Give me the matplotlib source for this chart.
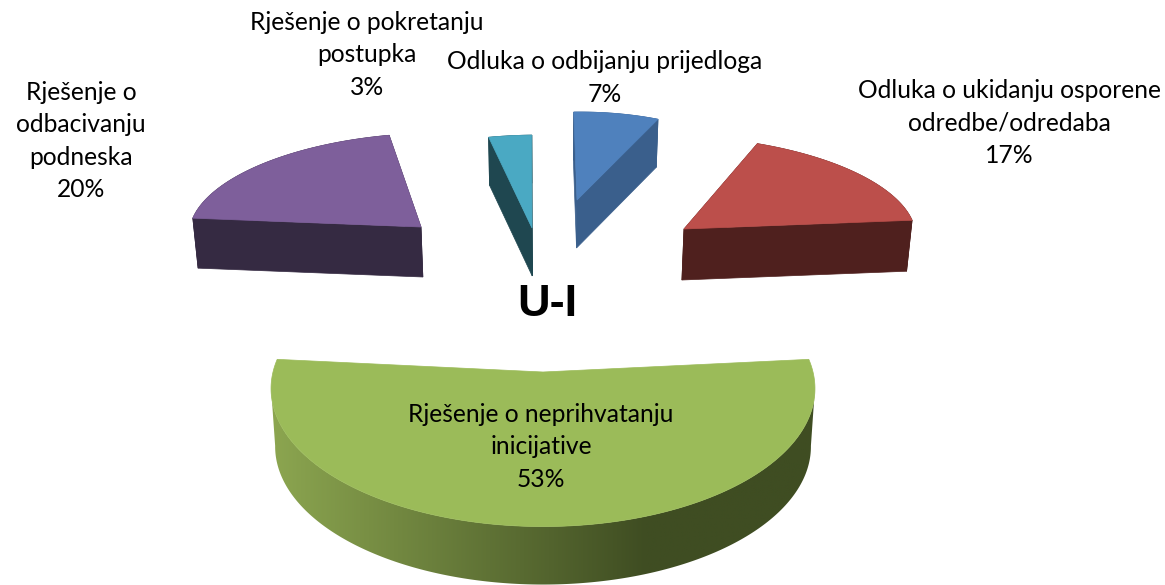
import numpy as np
import matplotlib
matplotlib.use('Agg')
import matplotlib.pyplot as plt
from matplotlib.colors import LinearSegmentedColormap
from matplotlib.patches import Polygon

categories = ['Odluka o odbijanju prijedloga',
              'Odluka o ukidanju osporene\nodredbe/odredaba',
              'Rješenje o neprihvatanju\ninicijative',
              'Rješenje o\nodbacivanju\npodneska',
              'Rješenje o pokretanju\npostupka']
values = [7, 17, 53, 20, 3]
title = 'U-I'

# look of each slice, same order as categories
top_colors = ['#4f81bd', '#bc4f4b', '#9bbb59', '#7e5f9b', '#4aa9c3']
side_colors = ['#3a5f8c', '#4f201e', None, '#352a42', '#1f4750']
centers = [(577, 200), (684, 229), (543, 372), (421, 227), (532, 228)]
radius_x = [197, 231, 270, 231, 230]
radius_y = [88, 93, 136, 94, 93]
shear = [3, -20, 0, 19, 7]
persp = [0, 0, 0.12, 0, 0]
depth = [48, 51, 58, 50, 48]
label_pos = [(605, 78), (1009, 123), (541, 447), (81, 141), (367, 55)]
line_height = 32.6

start_angle = -1.8
vanish_x = 545
bottom_scale = 0.985

fig = plt.figure(figsize=(11.65, 5.85), dpi=100)
ax = fig.add_axes([0, 0, 1, 1])
ax.set_xlim(0, 1165)
ax.set_ylim(585, 0)
ax.axis('off')

green_side = LinearSegmentedColormap.from_list(
    'green_side', [(0, '#8ca650'), (0.69, '#3f4d22'), (1, '#3f4d22')])

edges = start_angle + np.cumsum([0] + values) / sum(values) * 360

for i in range(len(values)):
    theta = np.radians(np.linspace(edges[i], edges[i + 1], 240))
    w = 1 + persp[i] * np.cos(theta)
    cx, cy = centers[i]
    arc_x = cx + (radius_x[i] * np.sin(theta) + shear[i] * np.cos(theta)) / w
    arc_y = cy - radius_y[i] * np.cos(theta) / w
    top = np.column_stack([np.r_[cx, arc_x], np.r_[cy, arc_y]])
    bottom = top.copy()
    bottom[:, 0] = vanish_x + (top[:, 0] - vanish_x) * bottom_scale
    bottom[:, 1] = top[:, 1] + depth[i]

    # extruded outline: all the side walls, the top face goes over them
    if side_colors[i] is None:
        right = top[:, 0].argmax()
        left = top[:, 0].argmin()
        walls = Polygon(np.vstack([top[right:left + 1], bottom[right:left + 1][::-1]]),
                        closed=True, fc='none', ec='none')
        ax.add_patch(walls)
        im = ax.imshow(np.linspace(0, 1, 256).reshape(1, -1), cmap=green_side, aspect='auto',
                       extent=[top[:, 0].min(), top[:, 0].max(), 585, 340], zorder=2)
        im.set_clip_path(walls)
    else:
        n = len(top)
        for j in [(0, 1), (0, n - 1)]:
            quad = np.array([top[j[0]], top[j[1]], bottom[j[1]], bottom[j[0]]])
            ax.add_patch(Polygon(quad, closed=True, fc=side_colors[i], ec=side_colors[i], lw=0.5, zorder=2))
        ax.add_patch(Polygon(np.vstack([top[1:], bottom[1:][::-1]]), closed=True,
                             fc=side_colors[i], ec=side_colors[i], lw=0.5, zorder=2))
    ax.add_patch(Polygon(top, closed=True, fc=top_colors[i], ec=top_colors[i], lw=0.5, zorder=3))

ax.set_xlim(0, 1165)
ax.set_ylim(585, 0)

# one text per line, the label blocks sit close together
for i in range(len(values)):
    lines = categories[i].split('\n') + [str(values[i]) + '%']
    for k, line in enumerate(lines):
        y = label_pos[i][1] + (k - (len(lines) - 1) / 2) * line_height
        ax.text(label_pos[i][0], y, line, ha='center', va='center', fontsize=17.7,
                family='Lato', color='black', zorder=5)

ax.text(547, 305, title, ha='center', va='center', fontsize=32.5, fontweight='bold',
        family='Liberation Sans', color='black', zorder=5)

fig.savefig('out.png', dpi=100)
